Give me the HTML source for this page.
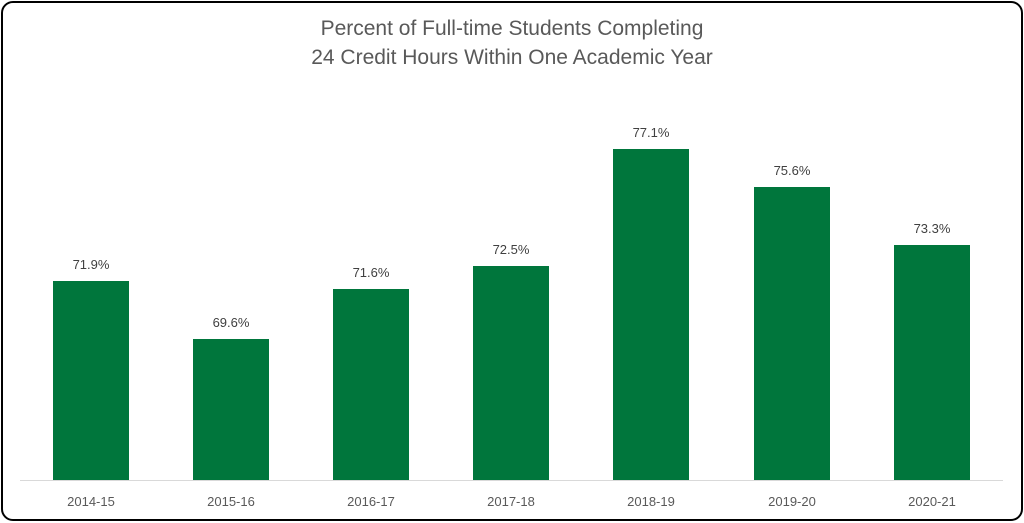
<!DOCTYPE html>
<html><head><style>
html,body{margin:0;padding:0;background:#fff;}
body{width:1024px;height:523px;position:relative;overflow:hidden;font-family:"Liberation Sans",sans-serif;}
.frame{position:absolute;left:1px;top:1px;width:1018px;height:516px;border:2px solid #000;border-radius:12px;}
.t{position:absolute;left:0;width:1024px;text-align:center;color:#595959;font-size:21px;}
.bar{position:absolute;background:#00763c;width:76px;}
.v,.x{position:absolute;width:100px;text-align:center;color:#404040;font-size:13px;}
.x{color:#595959;font-size:13px;}
.axis{position:absolute;left:20px;width:983px;top:480px;height:1px;background:#d9d9d9;}
</style></head><body>
<div class="frame"></div>
<div class="t" style="top:17px">Percent of Full-time Students Completing</div>
<div class="t" style="top:46px">24 Credit Hours Within One Academic Year</div>
<div class="bar" style="left:53px;top:281px;height:199px"></div>
<div class="bar" style="left:193px;top:339px;height:141px"></div>
<div class="bar" style="left:333px;top:289px;height:191px"></div>
<div class="bar" style="left:473px;top:266px;height:214px"></div>
<div class="bar" style="left:613px;top:149px;height:331px"></div>
<div class="bar" style="left:754px;top:187px;height:293px"></div>
<div class="bar" style="left:894px;top:245px;height:235px"></div>
<div class="axis"></div>
<div class="v" style="left:41px;top:257px">71.9%</div>
<div class="v" style="left:181px;top:315px">69.6%</div>
<div class="v" style="left:321px;top:265px">71.6%</div>
<div class="v" style="left:461px;top:242px">72.5%</div>
<div class="v" style="left:601px;top:125px">77.1%</div>
<div class="v" style="left:742px;top:163px">75.6%</div>
<div class="v" style="left:882px;top:221px">73.3%</div>
<div class="x" style="left:41px;top:494px">2014-15</div>
<div class="x" style="left:181px;top:494px">2015-16</div>
<div class="x" style="left:321px;top:494px">2016-17</div>
<div class="x" style="left:461px;top:494px">2017-18</div>
<div class="x" style="left:601px;top:494px">2018-19</div>
<div class="x" style="left:742px;top:494px">2019-20</div>
<div class="x" style="left:882px;top:494px">2020-21</div>
</body></html>
